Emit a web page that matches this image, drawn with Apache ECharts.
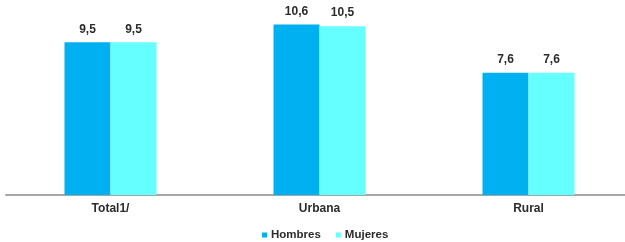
<!DOCTYPE html>
<html>
<head>
<meta charset="utf-8">
<script src="https://cdn.jsdelivr.net/npm/echarts@6/dist/echarts.min.js"></script>
<style>
    html, body { margin: 0; padding: 0; background: #fff; }
    #chart { width: 625px; height: 242px; }
</style>
</head>
<body>
<div id="chart"></div>
<script>
    // 数据
    var categories = ['Total1/', 'Urbana', 'Rural'];
    var hombres = [9.5, 10.6, 7.6];
    var mujeres = [9.5, 10.5, 7.6];
    var seriesNames = ['Hombres', 'Mujeres'];

    var fmt = function (p) {
        return String(p.value).replace('.', ',');
    };

    var chart = echarts.init(document.getElementById('chart'));
    var option = {
        animation: false,
        textStyle: {
            fontFamily: 'Liberation Sans, Arial, sans-serif'
        },
        color: ['#00b0f0', '#66ffff'],
        grid: {
            left: 6,
            top: 2,
            width: 627,
            height: 193,
            outerBoundsMode: 'none'
        },
        legend: {
            top: 229,
            left: 262,
            padding: 0,
            itemWidth: 5,
            itemHeight: 5,
            itemGap: 15,
            icon: 'rect',
            textStyle: {
                fontSize: 11.5,
                fontWeight: 'bold',
                color: '#2b2b2b',
                padding: [0, 0, 0, -1]
            },
            data: seriesNames
        },
        xAxis: {
            type: 'category',
            data: categories,
            axisLine: {
                lineStyle: { color: '#a6a6a6', width: 2 }
            },
            axisTick: { show: false },
            axisLabel: {
                margin: 8,
                fontSize: 12,
                fontWeight: 'bold',
                color: '#2b2b2b'
            }
        },
        yAxis: {
            type: 'value',
            min: 0,
            max: 12,
            show: false,
            splitLine: { show: false }
        },
        series: [
            {
                name: seriesNames[0],
                type: 'bar',
                barWidth: 46,
                barGap: 0,
                data: hombres,
                label: {
                    show: true,
                    position: 'top',
                    distance: 7,
                    formatter: fmt,
                    fontSize: 12,
                    fontWeight: 'bold',
                    color: '#2b2b2b'
                }
            },
            {
                name: seriesNames[1],
                type: 'bar',
                barWidth: 46,
                barGap: 0,
                data: mujeres,
                label: {
                    show: true,
                    position: 'top',
                    distance: 7,
                    formatter: fmt,
                    fontSize: 12,
                    fontWeight: 'bold',
                    color: '#2b2b2b'
                }
            }
        ]
    };
    chart.setOption(option);
</script>
</body>
</html>
